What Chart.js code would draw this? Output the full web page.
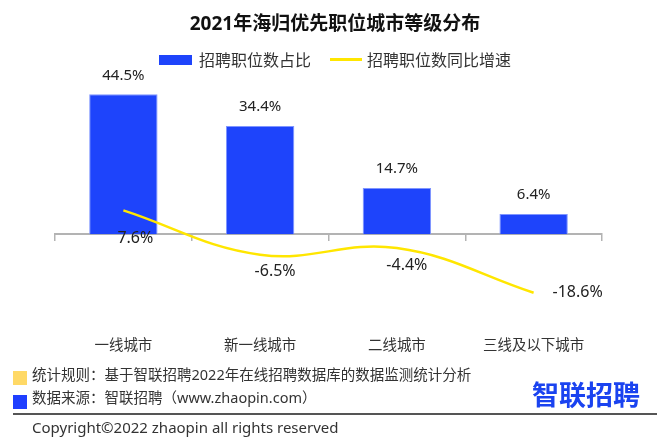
<!DOCTYPE html>
<html>
<head>
<meta charset="utf-8">
<script src="https://cdn.jsdelivr.net/npm/chart.js@4/dist/chart.umd.min.js"></script>
<style>
  body { margin: 0; background: #fff; font-family: "Noto Sans", "Noto Sans CJK SC", sans-serif; }
  #wrap { position: relative; width: 670px; height: 448px; overflow: hidden; }
  #wrap canvas { position: absolute; left: 0; top: 0; }
  .abs { position: absolute; white-space: nowrap; line-height: 1; }
  #title { left: 0; width: 670px; top: 14px; text-align: center; font-size: 19px; font-weight: bold; color: #111; }
  #legend { left: 0; width: 670px; top: 50px; text-align: center; font-size: 16px; color: #333; }
  #legend span { display: inline-block; vertical-align: middle; }
  .sw-bar { width: 33px; height: 10px; background: #1e44fb; margin-right: 7px; }
  .sw-line { width: 32px; height: 3px; background: #ffe600; margin: 0 5px 0 19px; }
  .note { left: 32px; font-size: 14.5px; color: #333; }
  .sq { position: absolute; left: 13px; width: 14px; height: 14px; }
</style>
</head>
<body>
<div id="wrap">
  <canvas id="myChart" width="670" height="448"></canvas>
  <div id="title" class="abs">2021年海归优先职位城市等级分布</div>
  <div id="legend" class="abs">
    <span class="sw-bar"></span><span>招聘职位数占比</span><span class="sw-line"></span><span>招聘职位数同比增速</span>
  </div>
  <div class="sq" style="top:371px;background:#ffd966;"></div>
  <div class="abs note" style="top:367px;">统计规则：基于智联招聘2022年在线招聘数据库的数据监测统计分析</div>
  <div class="sq" style="top:395px;background:#1f3fff;"></div>
  <div class="abs note" style="top:390px;">数据来源：智联招聘（www.zhaopin.com）</div>
  <div class="abs" style="left:532px;top:380px;font-size:27px;font-weight:bold;color:#1a43f0;font-family:'Noto Sans CJK SC';">智联招聘</div>
  <div class="abs" style="left:13px;top:413px;width:644px;height:2px;background:#555;"></div>
  <div class="abs note" style="top:420px;font-size:15px;">Copyright©2022 zhaopin all rights reserved</div>
</div>
<script>
var cities = ['一线城市', '新一线城市', '二线城市', '三线及以下城市'];
var shareValues = [44.5, 34.4, 14.7, 6.4];
var growthValues = [7.6, -6.5, -4.4, -18.6];

var labelFont = '"Noto Sans", "Noto Sans CJK SC", sans-serif';

// value labels: above bars, next to line points
var valueLabels = {
    id: 'valueLabels',
    afterDatasetsDraw: function(chart) {
        var ctx = chart.ctx;
        ctx.save();
        ctx.fillStyle = '#222';
        ctx.textAlign = 'center';
        ctx.textBaseline = 'middle';

        var bars = chart.getDatasetMeta(1).data;
        ctx.font = '15px ' + labelFont;
        bars.forEach(function(bar, i) {
            ctx.fillText(shareValues[i].toFixed(1) + '%', bar.x, bar.y - 19);
        });

        var offsets = [[12, 28], [15, 17], [10, 17], [44, 0]];
        var pts = chart.getDatasetMeta(0).data;
        ctx.font = '16px ' + labelFont;
        pts.forEach(function(p, i) {
            ctx.fillText(growthValues[i].toFixed(1) + '%', p.x + offsets[i][0], p.y + offsets[i][1]);
        });
        ctx.restore();
    }
};

var ctx = document.getElementById('myChart');
var myChart = new Chart(ctx, {
    type: 'bar',
    data: {
        labels: cities,
        datasets: [{
            type: 'line',
            label: '招聘职位数同比增速',
            data: growthValues,
            borderColor: '#ffe600',
            borderWidth: 2.5,
            tension: 0.4,
            pointRadius: 0,
            fill: false,
            order: 0
        }, {
            label: '招聘职位数占比',
            data: shareValues,
            backgroundColor: '#1e44fb',
            borderColor: '#7f95ff',
            borderWidth: 1,
            categoryPercentage: 1,
            barPercentage: 0.5,
            order: 1
        }]
    },
    options: {
        responsive: false,
        animation: false,
        layout: { padding: { left: 55, right: 68, top: 77, bottom: 84 } },
        plugins: {
            legend: { display: false },
            tooltip: { enabled: false }
        },
        scales: {
            x: {
                grid: { display: false, drawTicks: false },
                border: { display: false },
                ticks: {
                    padding: 9,
                    color: '#333',
                    font: { size: 14.5, family: labelFont }
                }
            },
            x2: {
                type: 'category',
                position: { y: 0 },
                offset: true,
                grid: { offset: true, drawOnChartArea: false, tickLength: 6, color: '#b3b3b3', lineWidth: 1.5 },
                border: { color: '#b3b3b3', width: 2 },
                ticks: { display: false }
            },
            y: {
                display: false,
                min: -30,
                max: 50
            }
        }
    },
    plugins: [valueLabels]
});
</script>
</body>
</html>
